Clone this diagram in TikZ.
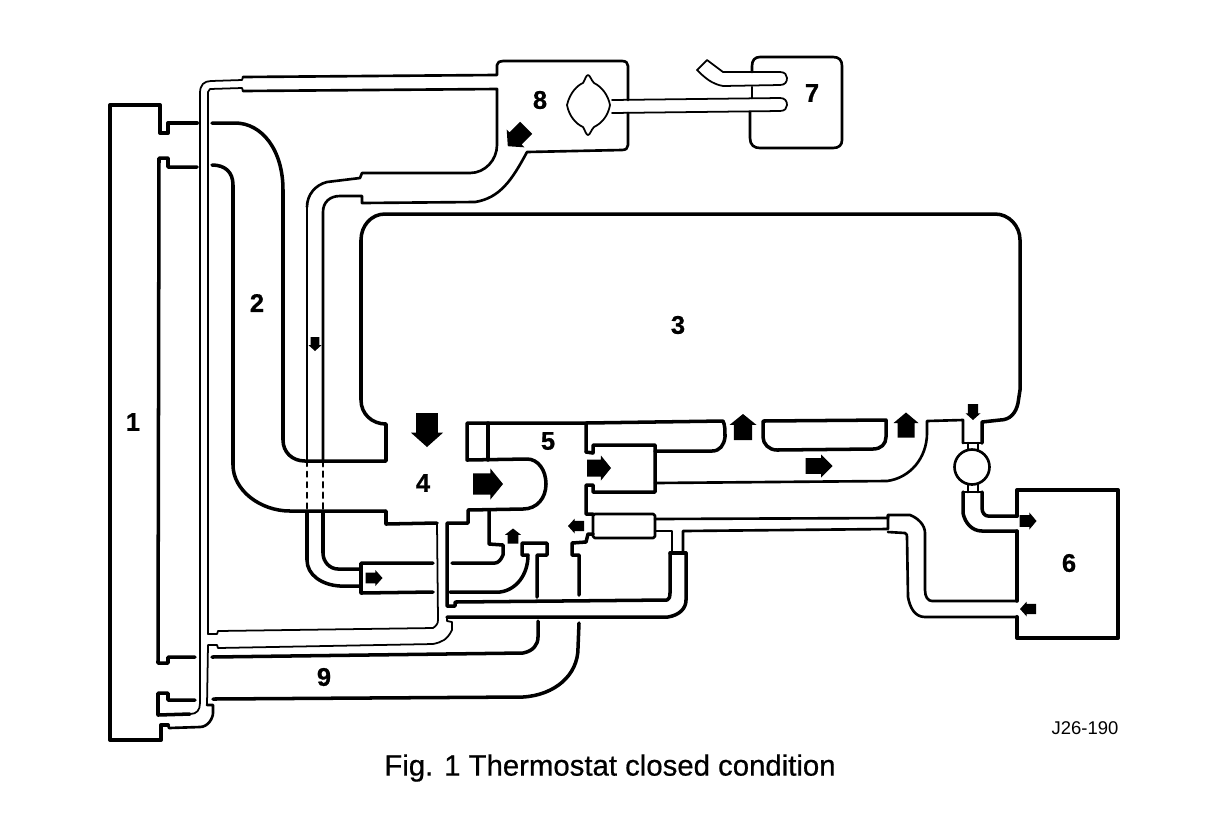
\documentclass[tikz,border=0pt]{standalone}
\usepackage{fontspec}
\setmainfont{Liberation Sans}
\newfontfamily\captionFont[FakeBold=0.6]{Liberation Sans}
\newfontfamily\partFont[FakeBold=0.8]{Liberation Sans Bold}
\tikzset{
    outerLine/.style={line width=2.3pt, line join=round, line cap=round},
    heavyLine/.style={line width=2pt, line join=round, line cap=round},
    midLine/.style={line width=1.5pt, line join=round, line cap=round},
    thinLine/.style={line width=1pt, line join=round, line cap=round},
    partLabel/.style={font=\partFont\fontsize{14.5}{16}\selectfont, inner sep=0pt},
}
\begin{document}
\begin{tikzpicture}[x=0.02cm, y=-0.02cm]
    % Fix the page size
    \useasboundingbox (0,0) rectangle (1216,816);
    \fill[white] (0,0) rectangle (1216,816);

    % Draw radiator
    \draw[outerLine] (197,123) -- (168,123) -- (168,133) -- (160,133) -- (160,105) -- (110,105) -- (110,740) -- (161,740) -- (161,725) -- (168,725);
    \draw[heavyLine] (197,167) -- (168,167) -- (168,158) -- (159,158) -- (158,663) -- (168,663) -- (168,657) -- (195,657);
    \draw[heavyLine] (195,700) -- (168,700) -- (168,693) -- (158,693) -- (158,715) -- (190,714);
    \draw[midLine] (168,725) -- (169,728) -- (200,727) .. controls (208,727) and (213,718) .. (213,713) -- (213,705) -- (207,705);

    % Draw header tank bleed pipes
    \draw[thinLine] (190,714) .. controls (197,714) and (200,710) .. (200,703) -- (200,93) .. controls (200,85) and (204,81) .. (211,81) -- (242,80) -- (243,77);
    \draw[midLine] (243,77) -- (495,75) -- (497,75) -- (497,65) .. controls (497,62) and (500,61) .. (503,61) -- (622,61) .. controls (626,61) and (628,63) .. (628,66) -- (628,100);
    \draw[thinLine] (207,705) -- (208,645) -- (217,645) -- (218,648) -- (433,644) .. controls (442,642) and (447,640) .. (452,630) -- (452,622) -- (447,621) -- (447,617);
    \draw[heavyLine] (447,617) -- (668,617) .. controls (680,615) and (686,608) .. (686,600) -- (686,553);
    \draw[thinLine] (208,634) -- (208,92) -- (210,89) -- (242,88) -- (243,91);
    \draw[midLine] (243,91) -- (497,89) -- (497,145) .. controls (497,160) and (485,173) .. (470,173) -- (362,173) -- (360,178) -- (327,182) .. controls (315,185) and (307,195) .. (307,207);
    \draw[thinLine] (307,207) -- (307,461);
    \draw[thinLine] (208,634) -- (217,634) -- (218,631) -- (433,628) .. controls (436,626) and (438,624) .. (438,620) -- (437,523);
    \draw[heavyLine] (437,523) -- (386,524) -- (386,511);

    % Draw top hose
    \draw[heavyLine] (212,123) -- (235,123) .. controls (262,123) and (283,150) .. (283,190) -- (283,440) .. controls (283,452) and (292,461) .. (305,461) -- (386,461) -- (386,424) .. controls (372,424) and (361,414) .. (361,400) -- (361,240) .. controls (361,226) and (371,214) .. (385,214) -- (995,214) .. controls (1009,214) and (1020,226) .. (1020,240) -- (1020,390) -- (1018,403) .. controls (1016,413) and (1010,420) .. (1000,420) -- (982,422) -- (982,443);
    \draw[heavyLine] (212,165) .. controls (225,165) and (233,172) .. (233,185) -- (233,465) .. controls (233,490) and (260,511) .. (290,511) -- (386,511);

    % Draw expansion tank
    \draw[midLine] (628,113) -- (628,145) .. controls (628,148) and (626,150) .. (622,150) -- (527,152) .. controls (512,180) and (500,198) .. (475,202) -- (362,203) -- (362,196) -- (340,196) .. controls (330,196) and (323,202) .. (323,212) -- (323,461);
    \draw[thinLine] (567,105) .. controls (570,92) and (578,85) .. (583,83) .. controls (585,80) and (586,75) .. (588,75) .. controls (590,75) and (591,80) .. (594,83) .. controls (602,87) and (608,95) .. (610,105) .. controls (608,116) and (602,123) .. (594,127) .. controls (591,130) and (590,135) .. (588,135) .. controls (586,135) and (585,130) .. (583,127) .. controls (576,124) and (569,116) .. (567,105) -- cycle;

    % Draw washer bottle and its pipes
    \draw[midLine] (752,72) -- (752,66) .. controls (752,60) and (755,57) .. (760,57) -- (833,57) .. controls (839,57) and (842,60) .. (842,66) -- (842,140) .. controls (842,145) and (839,148) .. (833,148) -- (760,148) .. controls (754,148) and (750,145) .. (750,138) -- (750,112);
    \draw[midLine] (752,87) -- (752,98);
    \draw[thinLine] (612,100) -- (780,98) .. controls (785,98) and (787,101) .. (787,105) .. controls (787,108) and (785,111) .. (780,111) -- (612,113);
    \draw[thinLine] (697,70) -- (707,60) -- (723,72) -- (780,72) .. controls (785,72) and (787,75) .. (787,78) .. controls (787,82) and (785,85) .. (780,85) -- (723,86) .. controls (712,84) and (705,78) .. (697,70) -- cycle;

    % Draw thermostat housing
    \draw[heavyLine] (586,452) -- (586,423) -- (467,423) -- (467,460) -- (527,459) .. controls (538,459) and (546,470) .. (546,484) .. controls (546,498) and (537,509) .. (523,509) -- (468,510) -- (468,523) -- (447,523) -- (447,606) -- (455,606) -- (455,602) -- (667,600) .. controls (670,598) and (670,596) .. (670,593) -- (670,553);
    \draw[heavyLine] (488,423) -- (488,460);
    \draw[heavyLine] (586,423) -- (723,421) .. controls (725,425) and (725,430) .. (725,437) .. controls (724,445) and (720,451) .. (712,451) -- (655,451);
    \draw[heavyLine] (586,452) -- (593,453) -- (593,445) -- (655,445) -- (655,492) -- (593,492) -- (593,485) -- (586,485) -- (586,514) -- (593,514);
    \draw[midLine] (655,483) -- (887,481) .. controls (910,478) and (927,458) .. (927,433) -- (927,421) -- (963,420) -- (963,443);
    \draw[heavyLine] (763,421) -- (886,420) -- (886,437) .. controls (886,444) and (881,449) .. (873,449) -- (777,450) .. controls (769,450) and (763,444) .. (763,437) -- cycle;

    % Draw heater and its matrix connections
    \draw[heavyLine] (489,511) -- (489,544) -- (503,545) -- (503,555) .. controls (501,560) and (498,563) .. (495,563) -- (452,563);
    \draw[heavyLine] (433,563) -- (361,563) -- (361,593) -- (433,592);
    \draw[heavyLine] (361,569) -- (338,569) .. controls (330,569) and (323,562) .. (323,553) -- (323,511);
    \draw[heavyLine] (361,586) -- (340,586) .. controls (322,585) and (307,575) .. (307,560) -- (307,511);
    \draw[heavyLine] (450,592) -- (500,592) .. controls (516,590) and (528,575) .. (528,555) -- (522,555) -- (522,543) -- (547,543) -- (547,555) -- (537,555) -- (537,597);
    \draw[heavyLine] (579,595) -- (579,555) -- (572,555) -- (572,543) -- (586,542) -- (588,534) -- (593,534);
    \draw[thinLine, dashed] (307,461) -- (307,511);
    \draw[midLine, dashed] (323,461) -- (323,511);

    % Draw small bypass body and its long pipe
    \draw[midLine, rounded corners=1pt] (593,514) rectangle (655,538);
    \draw[midLine] (655,519) -- (888,518) -- (888,515) -- (910,515) .. controls (918,518) and (925,525) .. (925,533) -- (925,590) .. controls (925,597) and (928,601) .. (932,601) -- (1017,601);
    \draw[midLine] (655,531) -- (672,531) -- (672,553);
    \draw[midLine] (683,553) -- (683,531) -- (888,529) -- (888,515);
    \draw[midLine] (888,532) -- (905,533) .. controls (907,534) and (907,535) .. (907,537) -- (908,597) .. controls (910,608) and (915,617) .. (925,617) -- (1017,617);
    \draw[heavyLine] (670,553) -- (686,553);

    % Draw lower hoses
    \draw[heavyLine] (212,657) -- (523,653) .. controls (533,651) and (538,645) .. (538,637) -- (538,621);
    \draw[heavyLine] (213,699) -- (523,697) .. controls (555,695) and (578,675) .. (578,648) -- (579,623);

    % Draw pump
    \draw[midLine] (972,467) circle (17.5);
    \draw[midLine] (963,443) -- (982,443);
    \draw[midLine] (968,443) -- (968,450) (978,443) -- (978,450);
    \draw[midLine] (968,484) -- (968,492) (978,484) -- (978,492);
    \draw[midLine] (963,492) -- (982,492);
    \draw[heavyLine] (982,492) -- (982,508) .. controls (982,513) and (985,516) .. (988,516) -- (1017,516);
    \draw[heavyLine] (963,492) -- (963,513) .. controls (965,523) and (972,531) .. (982,531) -- (1017,531);

    % Draw heater block
    \draw[outerLine] (1017,516) -- (1017,490) -- (1118,490) -- (1118,638) -- (1017,638) -- (1017,617);
    \draw[heavyLine] (1017,531) -- (1017,601);

    % Draw flow arrows
    \foreach \cx/\cy/\len/\wid/\ang in {
        427/430/34/32/-90, 488/484/30/31/0, 513/536/15/16/90, 374/578/17/16/0,
        576/526/16/15/180, 599/468/24/25/0, 743/427/26/27/90, 906/425/25/25/90,
        819/466/27/23/0, 973/412/16/15/-90, 1028/521/17/17/0, 1028/609/16/15/180,
        315/344/14/13/-90, 517/137/26/25/225} {
        \fill[black, shift={(\cx,\cy)}, rotate=\ang] ({-\len/2},{-\wid*.34}) -- ({\len*.08},{-\wid*.34}) -- ({\len*.08},{-\wid/2}) -- ({\len/2},0) -- ({\len*.08},{\wid/2}) -- ({\len*.08},{\wid*.34}) -- ({-\len/2},{\wid*.34}) -- cycle;
    }

    % Label parts
    \node[partLabel] (labelRadiator) at (133,422) {1};
    \node[partLabel] (labelHose) at (257,303) {2};
    \node[partLabel] (labelEngine) at (678,325) {3};
    \node[partLabel] (labelInlet) at (423,483) {4};
    \node[partLabel] (labelThermostat) at (548,441) {5};
    \node[partLabel] (labelHeater) at (1069,563) {6};
    \node[partLabel] (labelBottle) at (812,93) {7};
    \node[partLabel] (labelTank) at (540,100) {8};
    \node[partLabel] (labelReturn) at (324,677) {9};

    % Drawing reference and caption
    \node[inner sep=0pt, font=\fontsize{10.5}{12}\selectfont] (refCode) at (1085,728) {J26-190};
    \node[inner sep=0pt, font=\captionFont\fontsize{16.7}{20}\selectfont] (figCaption) at (610,768) {Fig. 1 Thermostat closed condition};
\end{tikzpicture}
\end{document}
